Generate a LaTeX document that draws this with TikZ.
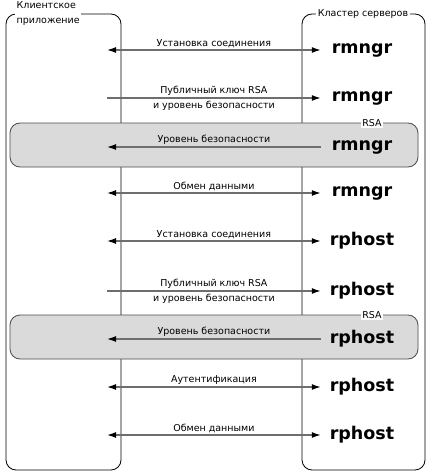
\documentclass[tikz,border=0pt]{standalone}
\usepackage{fontspec}
\setmainfont{DejaVu Sans}
\usetikzlibrary{arrows.meta, positioning}
\definecolor{linegray}{HTML}{6E6E6E}
\definecolor{boxgray}{HTML}{DADADA}
\definecolor{framegray}{HTML}{4A4A4A}

\begin{document}
\begin{tikzpicture}[x=1pt, y=-1pt, font=\fontsize{9.5}{11}\selectfont,
  >={Latex[length=9pt, width=6pt, color=black]},
  lane/.style={draw=black, line width=0.8pt, rounded corners=10pt},
  rsabox/.style={draw=framegray, fill=boxgray, line width=0.8pt, rounded corners=10pt,
    minimum width=408pt, minimum height=44pt},
  title/.style={fill=white, inner sep=1.5pt},
  srv/.style={font=\fontsize{17.5}{20}\selectfont\bfseries, minimum width=82pt, inner sep=0pt},
  msg/.style={draw=linegray, line width=1.3pt},
  two/.style={<->}, fwd/.style={->}, back/.style={<-},
  lblabove/.style={above, inner sep=1.5pt},
  lblacross/.style={align=center, inner sep=0pt, font=\fontsize{9.5}{15}\selectfont}]
  \useasboundingbox (0,0) rectangle (432,476);

  % lifelines
  \draw[lane] (6,14) rectangle (121,470);
  \draw[lane] (302,14) rectangle (425,470);
  \node[title, align=left, anchor=north west, font=\fontsize{9.5}{15}\selectfont] (client) at (15,0) {Клиентское\\приложение};
  \node[title] (cluster) at (363,14) {Кластер серверов};

  % RSA blocks
  \foreach \y/\n in {145/1, 337/2} {
    \node[rsabox] (rsa\n) at (214,\y) {};
    \node[title] (rsalbl\n) at (372,\y-22) {RSA};
  }

  % messages
  \foreach \i/\y/\s/\tip/\lbl/\txt in {
      1/50/rmngr/two/lblabove/Установка соединения,
      2/98/rmngr/fwd/lblacross/{Публичный ключ RSA\\и уровень безопасности},
      3/147/rmngr/back/lblabove/Уровень безопасности,
      4/193/rmngr/two/lblabove/Обмен данными,
      5/241/rphost/two/lblabove/Установка соединения,
      6/291/rphost/fwd/lblacross/{Публичный ключ RSA\\и уровень безопасности},
      7/339/rphost/back/lblabove/Уровень безопасности,
      8/387/rphost/two/lblabove/Аутентификация,
      9/435/rphost/two/lblabove/Обмен данными} {
    \coordinate (cl\i) at (107,\y);
    \node[srv] (srv\i) at (362,\y) {\s};
    \draw[msg, \tip] (cl\i) -- (srv\i) node[midway, \lbl] {\txt};
  }
\end{tikzpicture}
\end{document}
